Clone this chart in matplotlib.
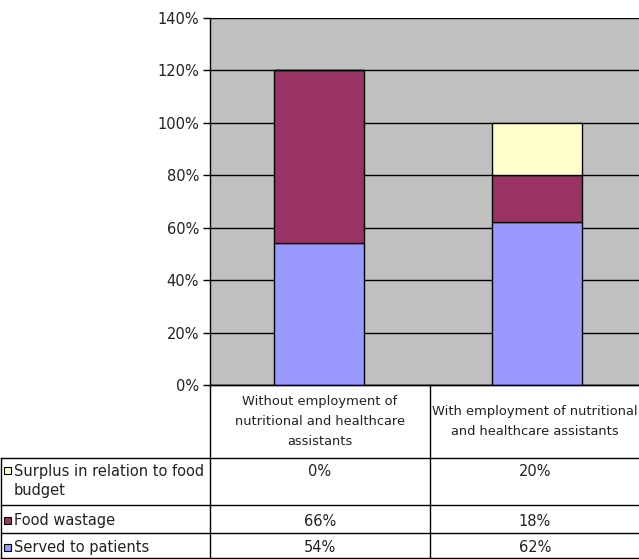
import matplotlib.pyplot as plt
from matplotlib.patches import Rectangle
from matplotlib.ticker import PercentFormatter

plt.rcParams['font.family'] = ['DejaVu Sans']

categories = ["Without employment of\nnutritional and healthcare\nassistants",
              "With employment of nutritional\nand healthcare assistants"]
series_names = ["Surplus in relation to food\nbudget", "Food wastage", "Served to patients"]
served = [54, 62]
wastage = [66, 18]
surplus = [0, 20]
colors = {"served": "#9999FF", "wastage": "#993366", "surplus": "#FFFFCC"}
yticks = [0, 20, 40, 60, 80, 100, 120, 140]

W, H = 639, 559
fig = plt.figure(figsize=(W / 100, H / 100), dpi=100)

# chart area in pixel terms
left, right, top, bottom = 210, 646, 18, 385
ax = fig.add_axes([left / W, (H - bottom) / H, (right - left) / W, (bottom - top) / H])
ax.set_facecolor("#C0C0C0")
x = [0, 1]
bw = 0.41
ax.bar(x, served, bw, color=colors["served"], edgecolor="black", linewidth=1, zorder=3)
ax.bar(x, wastage, bw, bottom=served, color=colors["wastage"], edgecolor="black", linewidth=1, zorder=3)
tops = [s + w for s, w in zip(served, wastage)]
ax.bar(x, surplus, bw, bottom=tops, color=colors["surplus"], edgecolor="black", linewidth=1, zorder=3)
ax.set_xlim(-0.5, 1.5)
ax.set_ylim(0, 140)
ax.set_yticks(yticks)
ax.yaxis.set_major_formatter(PercentFormatter(decimals=0))
ax.set_xticks([])
ax.grid(axis="y", color="black", linewidth=1, zorder=1)
for s in ["top", "right"]:
    ax.spines[s].set_visible(False)
ax.spines["left"].set_linewidth(1)
ax.spines["bottom"].set_linewidth(1)
ax.tick_params(axis="y", length=5, width=1, labelsize=10.5, pad=3, labelcolor="#222222")

# data table drawn below the chart, in pixel coordinates
tab = fig.add_axes([0, 0, 1, 1])
tab.set_xlim(0, W)
tab.set_ylim(H, 0)
tab.axis("off")
col_x = [210, 430, 646]
row_y = [385, 458, 505, 533, 558]
lk = dict(color="black", linewidth=1)
tab.plot([col_x[0], W], [row_y[0], row_y[0]], **lk)
for y in row_y[1:]:
    tab.plot([1, W], [y, y], **lk)
for cx in col_x[:2]:
    tab.plot([cx, cx], [row_y[0], row_y[-1]], **lk)
tab.plot([1, 1], [row_y[1], row_y[-1]], **lk)

fs = 10.5
tc = "#222222"
centers = [320, 535]
for i, cat in enumerate(categories):
    tab.text(centers[i], (row_y[0] + row_y[1]) / 2, cat, ha="center", va="center",
             fontsize=9.4, linespacing=1.7, color=tc)

rows = [(series_names[0], surplus, colors["surplus"]),
        (series_names[1], wastage, colors["wastage"]),
        (series_names[2], served, colors["served"])]
for r, (name, vals, c) in enumerate(rows):
    y0 = row_y[r + 1]
    ytxt = y0 + 13 if r == 0 else (y0 + row_y[r + 2]) / 2 + 2
    tab.add_patch(Rectangle((4, ytxt - 4), 7, 7, facecolor=c, edgecolor="black", linewidth=0.8))
    if r == 0:
        tab.text(14, ytxt - 7, name, ha="left", va="top", fontsize=fs, linespacing=1.35, color=tc)
    else:
        tab.text(14, ytxt, name, ha="left", va="center", fontsize=fs, color=tc)
    for i, v in enumerate(vals):
        tab.text(centers[i], ytxt, f"{v}%", ha="center", va="center", fontsize=fs, color=tc)

fig.savefig("out.png", dpi=100)
